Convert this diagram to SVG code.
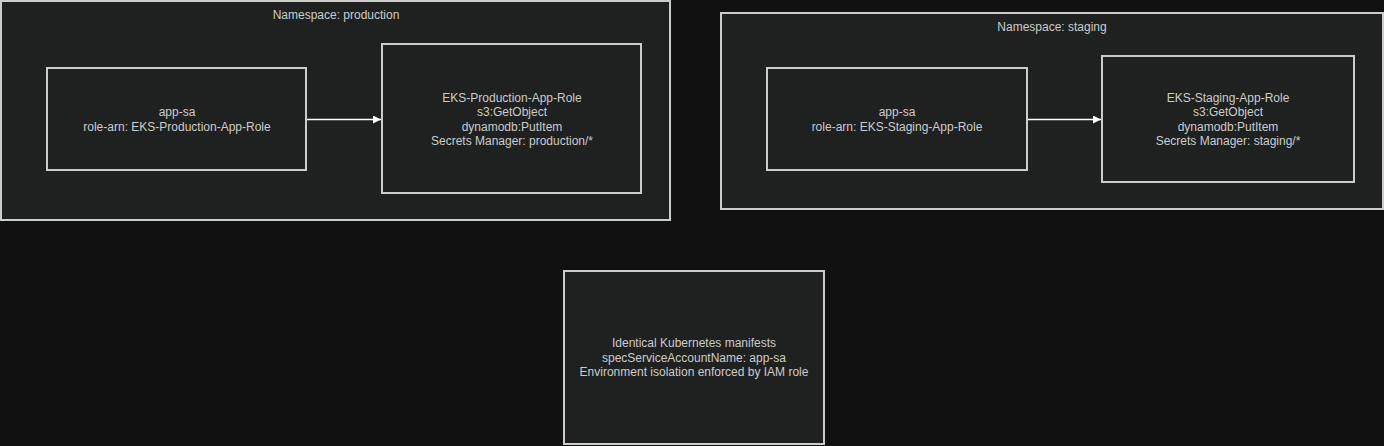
<svg xmlns="http://www.w3.org/2000/svg" width="1384" height="446" viewBox="0 0 1384 446">
<style>
.bg{fill:#111111}
.cluster{fill:#1f2020;stroke:#cccccc;stroke-width:2}
.node{fill:#1f2020;stroke:#cccccc;stroke-width:2}
text{font-family:"Liberation Sans",Arial,sans-serif;font-size:12px;fill:#cccccc;text-anchor:middle}
.edge{stroke:#ffffff;stroke-width:1.3;fill:none}
</style>
<defs>
<marker id="arrow" viewBox="0 0 10 10" refX="10" refY="5" markerWidth="8" markerHeight="8" markerUnits="userSpaceOnUse" orient="auto">
<path d="M0,0 L10,5 L0,10 z" fill="#ffffff"/>
</marker>
</defs>
<rect class="bg" x="0" y="0" width="1384" height="446"/>
<g id="cluster-production">
<rect class="cluster" x="1" y="1" width="669" height="219"/>
<text x="336" y="19">Namespace: production</text>
</g>
<g id="cluster-staging">
<rect class="cluster" x="721" y="13" width="662" height="196"/>
<text x="1052" y="31">Namespace: staging</text>
</g>
<g id="prod-sa">
<rect class="node" x="47" y="68" width="259" height="102"/>
<text x="177" y="116">app-sa</text>
<text x="177" y="131">role-arn: EKS-Production-App-Role</text>
</g>
<g id="prod-role">
<rect class="node" x="382" y="44" width="259" height="149"/>
<text x="512" y="102">EKS-Production-App-Role</text>
<text x="512" y="116">s3:GetObject</text>
<text x="512" y="131">dynamodb:PutItem</text>
<text x="512" y="145">Secrets Manager: production/*</text>
</g>
<g id="staging-sa">
<rect class="node" x="767" y="68" width="260" height="102"/>
<text x="897" y="116">app-sa</text>
<text x="897" y="131">role-arn: EKS-Staging-App-Role</text>
</g>
<g id="staging-role">
<rect class="node" x="1102" y="56" width="252" height="126"/>
<text x="1228" y="102">EKS-Staging-App-Role</text>
<text x="1228" y="116">s3:GetObject</text>
<text x="1228" y="131">dynamodb:PutItem</text>
<text x="1228" y="145">Secrets Manager: staging/*</text>
</g>
<g id="manifests">
<rect class="node" x="564" y="271" width="260" height="173"/>
<text x="694" y="347">Identical Kubernetes manifests</text>
<text x="694" y="362">specServiceAccountName: app-sa</text>
<text x="694" y="376">Environment isolation enforced by IAM role</text>
</g>
<g id="connectors">
<line class="edge" x1="307" y1="119.5" x2="381" y2="119.5" marker-end="url(#arrow)"/>
<line class="edge" x1="1028" y1="119.5" x2="1101" y2="119.5" marker-end="url(#arrow)"/>
</g>
</svg>
